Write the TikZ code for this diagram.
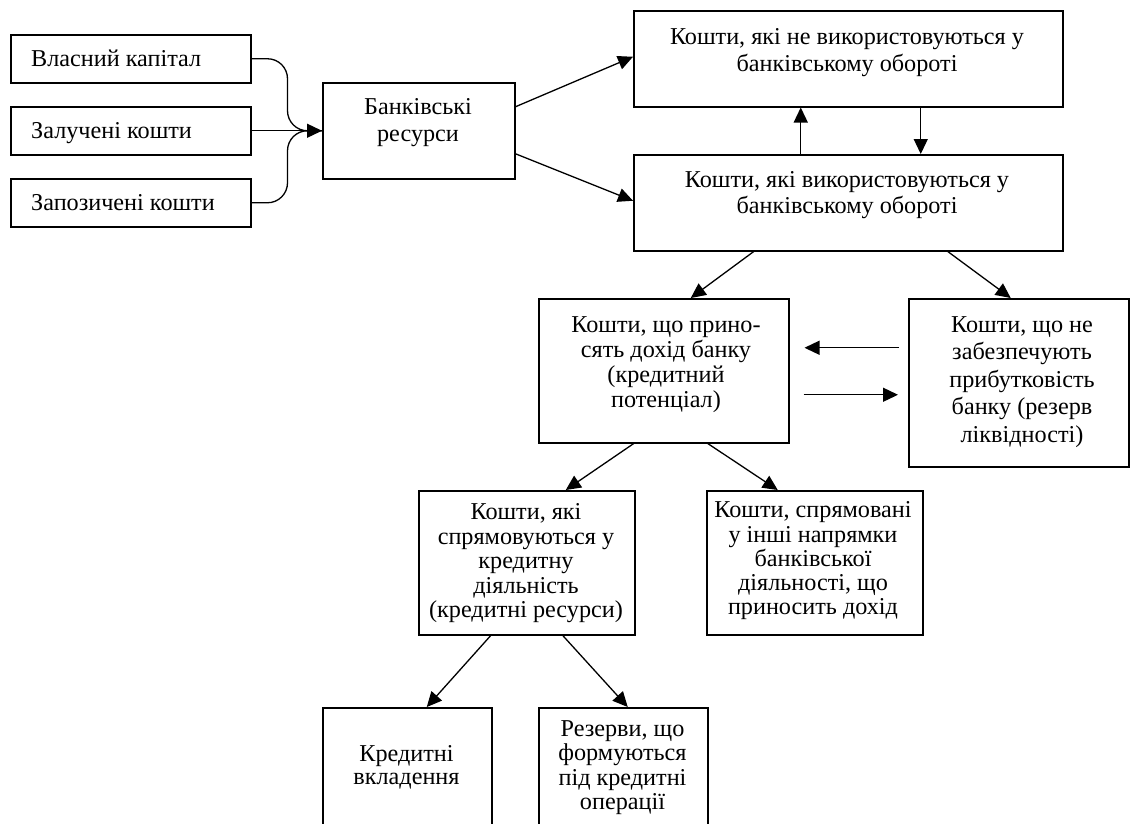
\documentclass[tikz,border=0pt]{standalone}
\usepackage{fontspec}
\setmainfont{Liberation Serif}
\usetikzlibrary{arrows.meta}
\begin{document}
\begin{tikzpicture}[x=1pt,y=-1pt,
  box/.style={draw,line width=1.5pt,inner sep=0pt,anchor=north west},
  lt/.style={inner sep=0pt,anchor=base west,font=\fontsize{24.2}{27}\selectfont},
  tx/.style={inner sep=0pt,anchor=north,align=center,font=\fontsize{24.2}{#1}\selectfont},
  arr/.style={line width=1.3pt,-{Triangle[length=15pt,width=14pt]}},
  ln/.style={line width=1.3pt},
]
\useasboundingbox (0,0) rectangle (1130,823);
% boxes
\node[box,minimum width=240pt,minimum height=48pt] (b1) at (10,34) {};
\node[box,minimum width=240pt,minimum height=48pt] (b2) at (10,106) {};
\node[box,minimum width=240pt,minimum height=48pt] (b3) at (10,178) {};
\node[box,minimum width=192pt,minimum height=96pt] (bank) at (322,82) {};
\node[box,minimum width=429pt,minimum height=96pt] (notused) at (633,10) {};
\node[box,minimum width=429pt,minimum height=96pt] (used) at (633,154) {};
\node[box,minimum width=250pt,minimum height=144pt] (income) at (538,298) {};
\node[box,minimum width=220pt,minimum height=168pt] (noprofit) at (908,298) {};
\node[box,minimum width=216pt,minimum height=144pt] (credit) at (418,490) {};
\node[box,minimum width=216pt,minimum height=144pt] (other) at (706,490) {};
\node[box,minimum width=169pt,minimum height=140pt] (loans) at (322,707) {};
\node[box,minimum width=169pt,minimum height=140pt] (reserves) at (538,707) {};
% texts
\node[lt] (t1) at (31,66) {Власний капітал};
\node[lt] (t2) at (31,138) {Залучені кошти};
\node[lt] (t3) at (31,210) {Запозичені кошти};
\node[tx=27] (tbank) at (418,98.5) {Банківські\\ресурси};
\node[tx=27] (tnotused) at (847,28) {Кошти, які не використовуються у\\банківському обороті};
\node[tx=26] (tused) at (847,171.5) {Кошти, які використовуються у\\банківському обороті};
\node[tx=25] (tincome) at (666,316.5) {Кошти, що прино-\\сять дохід банку\\(кредитний\\потенціал)};
\node[tx=27.5] (tnoprofit) at (1022,316) {Кошти, що не\\забезпечують\\прибутковість\\банку (резерв\\ліквідності)};
\node[tx=24.5] (tcredit) at (526,503.5) {Кошти, які\\спрямовуються у\\кредитну\\діяльність\\(кредитні ресурси)};
\node[tx=24.3] (tother) at (813,501.5) {Кошти, спрямовані\\у інші напрямки\\банківської\\діяльності, що\\приносить дохід};
\node[tx=23] (tloans) at (406.5,745.5) {Кредитні\\вкладення};
\node[tx=24.3] (treserves) at (622.5,720.5) {Резерви, що\\формуються\\під кредитні\\операції};
% connectors
\draw[ln] (b1.east) -- ++(16,0) to[out=0,in=90] ++(20,20) -- ++(0,32) to[out=-90,in=180] ++(20,20) -- (bank.west);
\draw[ln] (b3.east) -- ++(16,0) to[out=0,in=-90] ++(20,-20) -- ++(0,-32) to[out=90,in=180] ++(20,-20) -- (bank.west);
\draw[arr] (b2.east) -- (bank.west);
\draw[arr] ([yshift=24pt]bank.east) -- ([yshift=2pt]notused.west);
\draw[arr] ([yshift=-23pt]bank.east) -- ([yshift=2pt]used.west);
\draw[arr] ([xshift=-47.5pt]used.north) -- ([xshift=-47.5pt]notused.south);
\draw[arr] ([xshift=72.5pt]notused.south) -- ([xshift=72.5pt]used.north);
\draw[arr] ([xshift=-94.5pt]used.south) -- ([xshift=27pt]income.north);
\draw[arr] ([xshift=99.5pt]used.south) -- ([xshift=-8pt]noprofit.north);
\draw[arr] ([xshift=-9pt,yshift=35pt]noprofit.west) -- ([xshift=15pt,yshift=23pt]income.east);
\draw[arr] ([xshift=14pt,yshift=-24pt]income.east) -- ([xshift=-10pt,yshift=-12pt]noprofit.west);
\draw[arr] ([xshift=-30pt]income.south) -- ([xshift=39pt]credit.north);
\draw[arr] ([xshift=44pt]income.south) -- ([xshift=-37pt]other.north);
\draw[arr] ([xshift=-36pt]credit.south) -- ([xshift=19.5pt]loans.north);
\draw[arr] ([xshift=36pt]credit.south) -- ([xshift=4.5pt]reserves.north);
\end{tikzpicture}
\end{document}
